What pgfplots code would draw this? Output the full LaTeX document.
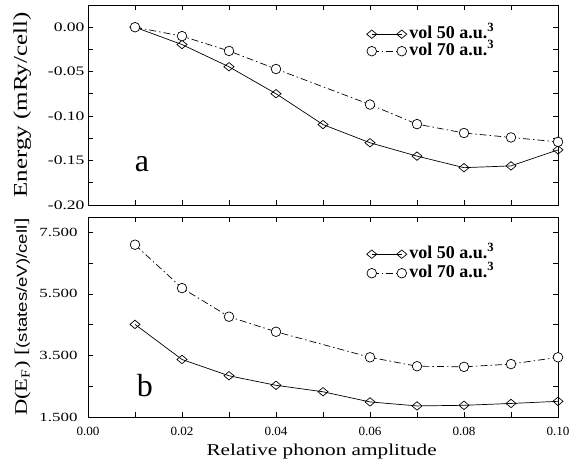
\documentclass[border=0pt]{standalone}
\usepackage{fontspec}
\usepackage{graphicx}
\setmainfont{Liberation Serif}[FakeStretch=1.28]
\newfontfamily\ytickfont{Liberation Serif}[FakeStretch=1.35]
\newfontfamily\xtickfont{Liberation Serif}[FakeStretch=1.05]
\newfontfamily\legfont{Liberation Serif}[BoldFont={Liberation Serif Bold}]
\newfontfamily\labfont{Liberation Serif}
\newfontfamily\sanslab{Liberation Sans}
\usepackage{pgfplots}
\pgfplotsset{compat=1.18}
\pgfplotsset{
  common/.style={
    scale only axis, width=470pt, height=200pt,
    xmin=0, xmax=0.1,
    axis line style={line width=0.9pt},
    tick style={line width=0.8pt, black},
    major tick length=5pt, minor tick length=5pt,
    tick pos=both, tick align=inside,
    xtick={0,0.02,0.04,0.06,0.08,0.1},
    minor xtick={0.01,0.03,0.05,0.07,0.09},
    /pgf/number format/assume math mode=true,
    every axis y label/.style={at={(axis description cs:-0.1298,0.5)}, rotate=90, anchor=base},
    legend cell align=left,
    legend image code/.code={\draw[mark repeat=2,mark phase=1,#1] plot coordinates {(0pt,0pt) (15pt,0pt) (30pt,0pt)};},
    legend style={draw=none, fill=none, inner sep=0pt, column sep=2pt,
      font=\legfont\bfseries\fontsize{18}{18}\selectfont,
      nodes={inner sep=0.5pt, text height=12pt, text depth=4pt}},
  },
  s50/.style={black, line width=0.7pt, mark=diamond, mark size=4.2pt,
    mark options={solid, fill=white, xscale=1.6}},
  s70/.style={black, line width=0.7pt, dash pattern=on 7pt off 3pt on 1.5pt off 3pt,
    mark=*, mark size=4.8pt, mark options={solid, fill=white}},
}
\begin{document}
\begin{tikzpicture}
\path[use as bounding box] (0,0) rectangle (573pt,464pt);
\begin{axis}[common, at={(88pt,259pt)}, anchor=south west,
  ymin=-0.2, ymax=0.025,
  ytick={-0.2,-0.15,-0.1,-0.05,0},
  minor ytick={-0.175,-0.125,-0.075,-0.025,0.025},
  xticklabels={},
  yticklabel style={font=\ytickfont\fontsize{13}{13}\selectfont, /pgf/number format/.cd, fixed, fixed zerofill, precision=2},
  ylabel={\scalebox{1.28}[1]{\labfont\fontsize{19.5}{20}\selectfont Energy (mRy/cell)}},
  legend style={at={(rel axis cs:0.5926,0.8975)}, anchor=north west, row sep=0pt},
]
\addplot[s50] coordinates {
(0.01,0) (0.02,-0.0195) (0.03,-0.0445) (0.04,-0.0748) (0.05,-0.1095)
(0.06,-0.130) (0.07,-0.145) (0.08,-0.158) (0.09,-0.156) (0.10,-0.138)};
\addlegendentry{vol 50 a.u.\textsuperscript{3}}
\addplot[s70] coordinates {
(0.01,0) (0.02,-0.010) (0.03,-0.0267) (0.04,-0.047)
(0.06,-0.087) (0.07,-0.109) (0.08,-0.119) (0.09,-0.124) (0.10,-0.129)};
\addlegendentry{vol 70 a.u.\textsuperscript{3}}
\node[anchor=base, font=\labfont\fontsize{32}{32}\selectfont] at (axis cs:0.0115,-0.1625) {a};
\end{axis}
\begin{axis}[common, at={(88pt,47pt)}, anchor=south west,
  ymin=1.5, ymax=8.0,
  ytick={1.5,3.5,5.5,7.5},
  minor ytick={2.5,4.5,6.5},
  xticklabel style={font=\xtickfont\fontsize{12.5}{12.5}\selectfont, anchor=base, yshift=-18pt, /pgf/number format/.cd, fixed, fixed zerofill, precision=2},
  yticklabel style={font=\ytickfont\fontsize{12.5}{12.5}\selectfont, xshift=-7pt, /pgf/number format/.cd, fixed, fixed zerofill, precision=3},
  ylabel={\scalebox{1.28}[1]{\labfont\fontsize{17.6}{18}\selectfont D(E\textsubscript{F}) [{\sanslab\fontsize{14.5}{14.5}\selectfont(states/eV)/cell}]}},
  xlabel={\fontsize{16.6}{17}\selectfont Relative phonon amplitude},
  every axis x label/.style={at={(axis description cs:0.497,-0.19)}, anchor=base},
  legend style={at={(rel axis cs:0.5926,0.8575)}, anchor=north west, row sep=2pt},
]
\addplot[s50] coordinates {
(0.01,4.51) (0.02,3.37) (0.03,2.84) (0.04,2.53) (0.05,2.32)
(0.06,1.99) (0.07,1.86) (0.08,1.88) (0.09,1.94) (0.10,2.01)};
\addlegendentry{vol 50 a.u.\textsuperscript{3}}
\addplot[s70] coordinates {
(0.01,7.10) (0.02,5.69) (0.03,4.76) (0.04,4.27)
(0.06,3.44) (0.07,3.15) (0.08,3.13) (0.09,3.22) (0.10,3.44)};
\addlegendentry{vol 70 a.u.\textsuperscript{3}}
\node[anchor=base, font=\labfont\fontsize{32}{32}\selectfont] at (axis cs:0.0121,2.17) {b};
\end{axis}
\end{tikzpicture}
\end{document}
